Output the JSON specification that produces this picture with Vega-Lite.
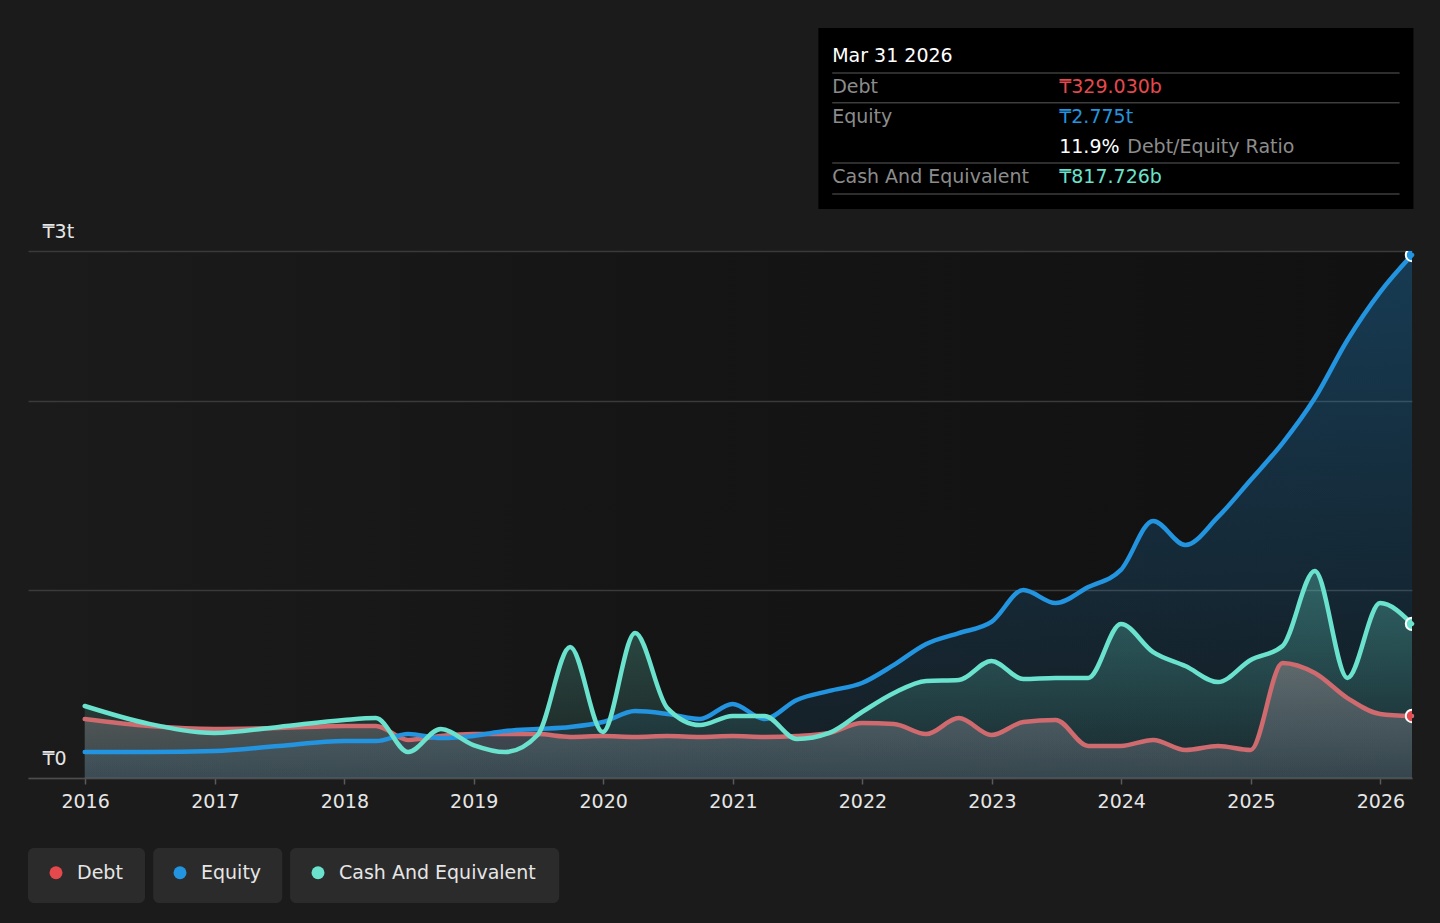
{
  "$schema": "https://vega.github.io/schema/vega-lite/v6.json",
  "width": 1384,
  "height": 527,
  "autosize": {"type": "none"},
  "padding": {"left": 28, "top": 251, "right": 28, "bottom": 145},
  "background": "#1b1b1b",
  "view": {
    "stroke": null,
    "fill": {
      "gradient": "linear", "x1": 0, "y1": 0, "x2": 1, "y2": 0,
      "stops": [
        {"offset": 0, "color": "#1b1b1b"},
        {"offset": 0.45, "color": "#151515"},
        {"offset": 1, "color": "#111111"}
      ]
    }
  },
  "config": {
    "font": "DejaVu Sans",
    "text": {"font": "DejaVu Sans", "fontSize": 19, "align": "left", "baseline": "middle"}
  },
  "data": {
    "values": [
      {"date": "2015-12-31", "Debt": 313, "Equity": 138, "Cash And Equivalent": 382},
      {"date": "2016-06-30", "Debt": 276, "Equity": 138, "Cash And Equivalent": 287},
      {"date": "2016-12-31", "Debt": 260, "Equity": 143, "Cash And Equivalent": 239},
      {"date": "2017-06-30", "Debt": 265, "Equity": 170, "Cash And Equivalent": 271},
      {"date": "2017-12-31", "Debt": 276, "Equity": 196, "Cash And Equivalent": 308},
      {"date": "2018-03-31", "Debt": 276, "Equity": 196, "Cash And Equivalent": 318},
      {"date": "2018-06-30", "Debt": 202, "Equity": 233, "Cash And Equivalent": 138},
      {"date": "2018-09-30", "Debt": 223, "Equity": 212, "Cash And Equivalent": 260},
      {"date": "2018-12-31", "Debt": 233, "Equity": 223, "Cash And Equivalent": 175},
      {"date": "2019-03-31", "Debt": 233, "Equity": 249, "Cash And Equivalent": 138},
      {"date": "2019-06-30", "Debt": 233, "Equity": 260, "Cash And Equivalent": 228},
      {"date": "2019-09-30", "Debt": 218, "Equity": 271, "Cash And Equivalent": 695},
      {"date": "2019-12-31", "Debt": 223, "Equity": 297, "Cash And Equivalent": 244},
      {"date": "2020-03-31", "Debt": 218, "Equity": 355, "Cash And Equivalent": 769},
      {"date": "2020-06-30", "Debt": 223, "Equity": 340, "Cash And Equivalent": 371},
      {"date": "2020-09-30", "Debt": 218, "Equity": 313, "Cash And Equivalent": 281},
      {"date": "2020-12-31", "Debt": 223, "Equity": 393, "Cash And Equivalent": 329},
      {"date": "2021-03-31", "Debt": 218, "Equity": 313, "Cash And Equivalent": 329},
      {"date": "2021-06-30", "Debt": 223, "Equity": 414, "Cash And Equivalent": 207},
      {"date": "2021-09-30", "Debt": 239, "Equity": 462, "Cash And Equivalent": 239},
      {"date": "2021-12-31", "Debt": 292, "Equity": 504, "Cash And Equivalent": 350},
      {"date": "2022-03-31", "Debt": 287, "Equity": 600, "Cash And Equivalent": 451},
      {"date": "2022-06-30", "Debt": 233, "Equity": 711, "Cash And Equivalent": 515},
      {"date": "2022-09-30", "Debt": 318, "Equity": 769, "Cash And Equivalent": 520},
      {"date": "2022-12-31", "Debt": 228, "Equity": 828, "Cash And Equivalent": 621},
      {"date": "2023-03-31", "Debt": 297, "Equity": 997, "Cash And Equivalent": 525},
      {"date": "2023-06-30", "Debt": 308, "Equity": 928, "Cash And Equivalent": 531},
      {"date": "2023-09-30", "Debt": 170, "Equity": 1013, "Cash And Equivalent": 531},
      {"date": "2023-12-31", "Debt": 170, "Equity": 1104, "Cash And Equivalent": 817},
      {"date": "2024-03-31", "Debt": 202, "Equity": 1364, "Cash And Equivalent": 668},
      {"date": "2024-06-30", "Debt": 149, "Equity": 1236, "Cash And Equivalent": 594},
      {"date": "2024-09-30", "Debt": 170, "Equity": 1385, "Cash And Equivalent": 509},
      {"date": "2024-12-31", "Debt": 149, "Equity": 1581, "Cash And Equivalent": 626},
      {"date": "2025-03-31", "Debt": 610, "Equity": 1777, "Cash And Equivalent": 700},
      {"date": "2025-06-30", "Debt": 557, "Equity": 2016, "Cash And Equivalent": 1098},
      {"date": "2025-09-30", "Debt": 424, "Equity": 2324, "Cash And Equivalent": 531},
      {"date": "2025-12-31", "Debt": 340, "Equity": 2578, "Cash And Equivalent": 928},
      {"date": "2026-03-31", "Debt": 329.03, "Equity": 2775, "Cash And Equivalent": 817.726}
    ]
  },
  "transform": [
    {"fold": ["Debt", "Equity", "Cash And Equivalent"], "as": ["series", "value"]}
  ],
  "layer": [
    {
      "encoding": {
        "x": {
          "field": "date",
          "type": "temporal",
          "scale": {
            "domain": [{"year": 2015, "month": 7, "date": 24}, {"year": 2026, "month": 3, "date": 31}],
            "nice": false
          },
          "axis": {
            "values": [
              {"year": 2016}, {"year": 2017}, {"year": 2018}, {"year": 2019}, {"year": 2020}, {"year": 2021},
              {"year": 2022}, {"year": 2023}, {"year": 2024}, {"year": 2025}, {"year": 2026}
            ],
            "format": "%Y",
            "title": null,
            "grid": false,
            "domainColor": "#4d4d4d",
            "domainWidth": 1.5,
            "tickColor": "#5a5a5a",
            "tickSize": 6,
            "tickWidth": 1.5,
            "labelColor": "#e6e6e6",
            "labelFont": "DejaVu Sans",
            "labelFontSize": 19,
            "labelPadding": 8,
            "labelFlush": false,
            "labelOverlap": false
          }
        },
        "y": {
          "field": "value",
          "type": "quantitative",
          "scale": {"domain": [0, 2796], "nice": false},
          "axis": {
            "values": [0, 1000, 2000, 2796],
            "labelExpr": "datum.value === 0 ? '₸0' : (datum.value > 2700 ? '₸3t' : '')",
            "title": null,
            "domain": false,
            "ticks": false,
            "grid": true,
            "gridColor": "#3a3a3a",
            "gridWidth": 1.5,
            "labelAlign": "left",
            "labelBaseline": "alphabetic",
            "labelPadding": -14,
            "labelOffset": -14,
            "labelColor": "#e6e6e6",
            "labelFont": "DejaVu Sans",
            "labelFontSize": 19,
            "labelFlush": false,
            "labelOverlap": false
          }
        }
      },
      "layer": [
        {
          "transform": [{"filter": "datum.series === 'Equity'"}],
          "mark": {
            "type": "area", "interpolate": "monotone",
            "fill": {"gradient": "linear", "x1": 0, "y1": 0, "x2": 0, "y2": 1,
              "stops": [{"offset": 0, "color": "rgba(35,148,223,0.32)"}, {"offset": 1, "color": "rgba(35,148,223,0.08)"}]}
          }
        },
        {
          "transform": [{"filter": "datum.series === 'Cash And Equivalent'"}],
          "mark": {
            "type": "area", "interpolate": "monotone",
            "fill": {"gradient": "linear", "x1": 0, "y1": 0, "x2": 0, "y2": 1,
              "stops": [{"offset": 0, "color": "rgba(106,226,205,0.32)"}, {"offset": 1, "color": "rgba(106,226,205,0.06)"}]}
          }
        },
        {
          "transform": [{"filter": "datum.series === 'Debt'"}],
          "mark": {
            "type": "area", "interpolate": "monotone",
            "fill": {"gradient": "linear", "x1": 0, "y1": 0, "x2": 0, "y2": 1,
              "stops": [{"offset": 0, "color": "rgba(215,170,170,0.32)"}, {"offset": 1, "color": "rgba(160,175,195,0.22)"}]}
          }
        },
        {
          "transform": [{"filter": "datum.series === 'Debt'"}],
          "mark": {"type": "line", "interpolate": "monotone", "strokeWidth": 4.5, "strokeCap": "round", "color": "#cf6a6f"}
        },
        {
          "transform": [{"filter": "datum.series === 'Equity'"}],
          "mark": {"type": "line", "interpolate": "monotone", "strokeWidth": 4.5, "strokeCap": "round", "color": "#2394df"}
        },
        {
          "transform": [{"filter": "datum.series === 'Cash And Equivalent'"}],
          "mark": {"type": "line", "interpolate": "monotone", "strokeWidth": 4.5, "strokeCap": "round", "color": "#6ae2cd"}
        },
        {
          "transform": [
            {"window": [{"op": "row_number", "as": "rn"}], "sort": [{"field": "date", "order": "descending"}], "groupby": ["series"]},
            {"filter": "datum.rn === 1"}
          ],
          "mark": {"type": "point", "filled": true, "size": 155, "stroke": "#ffffff", "strokeWidth": 2, "opacity": 1, "clip": true},
          "encoding": {
            "color": {
              "field": "series",
              "type": "nominal",
              "scale": {"domain": ["Debt", "Equity", "Cash And Equivalent"], "range": ["#e5484d", "#2394df", "#6ae2cd"]},
              "legend": {
                "title": null,
                "orient": "none",
                "legendX": 18.5,
                "legendY": 612,
                "padding": 0,
                "direction": "horizontal",
                "columnPadding": 47,
                "symbolType": "circle",
                "symbolSize": 169,
                "symbolStrokeWidth": 0,
                "symbolOffset": 0,
                "labelOffset": 11.5,
                "labelLimit": 0,
                "labelFont": "DejaVu Sans",
                "labelFontSize": 19,
                "labelColor": "#e6e6e6",
                "encode": {
                  "symbols": {"update": {"stroke": {"value": "transparent"}, "opacity": {"value": 1}}}
                }
              }
            }
          }
        }
      ]
    },
    {
      "data": {"values": [{}]},
      "mark": {"type": "rect", "color": "#2b2b2b", "cornerRadius": 6},
      "encoding": {
        "x": {"datum": {"year": 2015, "month": 7, "date": 24}, "type": "temporal"},
        "x2": {"datum": {"year": 2016, "month": 6, "date": 18}},
        "y": {"datum": -371, "type": "quantitative"},
        "y2": {"datum": -663}
      }
    },
    {
      "data": {"values": [{}]},
      "mark": {"type": "rect", "color": "#2b2b2b", "cornerRadius": 6},
      "encoding": {
        "x": {"datum": {"year": 2016, "month": 7, "date": 11}, "type": "temporal"},
        "x2": {"datum": {"year": 2017, "month": 7, "date": 10}},
        "y": {"datum": -371, "type": "quantitative"},
        "y2": {"datum": -663}
      }
    },
    {
      "data": {"values": [{}]},
      "mark": {"type": "rect", "color": "#2b2b2b", "cornerRadius": 6},
      "encoding": {
        "x": {"datum": {"year": 2017, "month": 8, "date": 1}, "type": "temporal"},
        "x2": {"datum": {"year": 2019, "month": 8, "date": 30}},
        "y": {"datum": -371, "type": "quantitative"},
        "y2": {"datum": -663}
      }
    },
    {
      "data": {"values": [{}]},
      "mark": {"type": "rect", "color": "#000000"},
      "encoding": {
        "x": {"datum": {"year": 2021, "month": 8, "date": 30}, "type": "temporal"},
        "x2": {"datum": {"year": 2026, "month": 4, "date": 4}},
        "y": {"datum": 3979, "type": "quantitative"},
        "y2": {"datum": 3019}
      }
    },
    {
      "data": {"values": [{}]},
      "mark": {"type": "rule", "color": "#3d3d3d", "strokeWidth": 1.5},
      "encoding": {
        "x": {"datum": {"year": 2021, "month": 10, "date": 8}, "type": "temporal"},
        "x2": {"datum": {"year": 2026, "month": 2, "date": 24}},
        "y": {"datum": 3741, "type": "quantitative"}
      }
    },
    {
      "data": {"values": [{}]},
      "mark": {"type": "rule", "color": "#3d3d3d", "strokeWidth": 1.5},
      "encoding": {
        "x": {"datum": {"year": 2021, "month": 10, "date": 8}, "type": "temporal"},
        "x2": {"datum": {"year": 2026, "month": 2, "date": 24}},
        "y": {"datum": 3582, "type": "quantitative"}
      }
    },
    {
      "data": {"values": [{}]},
      "mark": {"type": "rule", "color": "#3d3d3d", "strokeWidth": 1.5},
      "encoding": {
        "x": {"datum": {"year": 2021, "month": 10, "date": 8}, "type": "temporal"},
        "x2": {"datum": {"year": 2026, "month": 2, "date": 24}},
        "y": {"datum": 3263, "type": "quantitative"}
      }
    },
    {
      "data": {"values": [{}]},
      "mark": {"type": "rule", "color": "#3d3d3d", "strokeWidth": 1.5},
      "encoding": {
        "x": {"datum": {"year": 2021, "month": 10, "date": 8}, "type": "temporal"},
        "x2": {"datum": {"year": 2026, "month": 2, "date": 24}},
        "y": {"datum": 3099, "type": "quantitative"}
      }
    },
    {
      "data": {"values": [{}]},
      "mark": {"type": "text", "color": "#ffffff", "text": "Mar 31 2026"},
      "encoding": {
        "x": {"datum": {"year": 2021, "month": 10, "date": 8}, "type": "temporal"},
        "y": {"datum": 3831, "type": "quantitative"}
      }
    },
    {
      "data": {"values": [{}]},
      "mark": {"type": "text", "color": "#8c8c8c", "text": "Debt"},
      "encoding": {
        "x": {"datum": {"year": 2021, "month": 10, "date": 8}, "type": "temporal"},
        "y": {"datum": 3666, "type": "quantitative"}
      }
    },
    {
      "data": {"values": [{}]},
      "mark": {"type": "text", "color": "#e5484d", "text": "₸329.030b"},
      "encoding": {
        "x": {"datum": {"year": 2023, "month": 7, "date": 10}, "type": "temporal"},
        "y": {"datum": 3666, "type": "quantitative"}
      }
    },
    {
      "data": {"values": [{}]},
      "mark": {"type": "text", "color": "#8c8c8c", "text": "Equity"},
      "encoding": {
        "x": {"datum": {"year": 2021, "month": 10, "date": 8}, "type": "temporal"},
        "y": {"datum": 3507, "type": "quantitative"}
      }
    },
    {
      "data": {"values": [{}]},
      "mark": {"type": "text", "color": "#2394df", "text": "₸2.775t"},
      "encoding": {
        "x": {"datum": {"year": 2023, "month": 7, "date": 10}, "type": "temporal"},
        "y": {"datum": 3507, "type": "quantitative"}
      }
    },
    {
      "data": {"values": [{}]},
      "mark": {"type": "text", "color": "#ffffff", "text": "11.9%"},
      "encoding": {
        "x": {"datum": {"year": 2023, "month": 7, "date": 10}, "type": "temporal"},
        "y": {"datum": 3348, "type": "quantitative"}
      }
    },
    {
      "data": {"values": [{}]},
      "mark": {"type": "text", "color": "#8c8c8c", "text": "Debt/Equity Ratio"},
      "encoding": {
        "x": {"datum": {"year": 2024, "month": 1, "date": 18}, "type": "temporal"},
        "y": {"datum": 3348, "type": "quantitative"}
      }
    },
    {
      "data": {"values": [{}]},
      "mark": {"type": "text", "color": "#8c8c8c", "text": "Cash And Equivalent"},
      "encoding": {
        "x": {"datum": {"year": 2021, "month": 10, "date": 8}, "type": "temporal"},
        "y": {"datum": 3189, "type": "quantitative"}
      }
    },
    {
      "data": {"values": [{}]},
      "mark": {"type": "text", "color": "#6ae2cd", "text": "₸817.726b"},
      "encoding": {
        "x": {"datum": {"year": 2023, "month": 7, "date": 10}, "type": "temporal"},
        "y": {"datum": 3189, "type": "quantitative"}
      }
    }
  ]
}
